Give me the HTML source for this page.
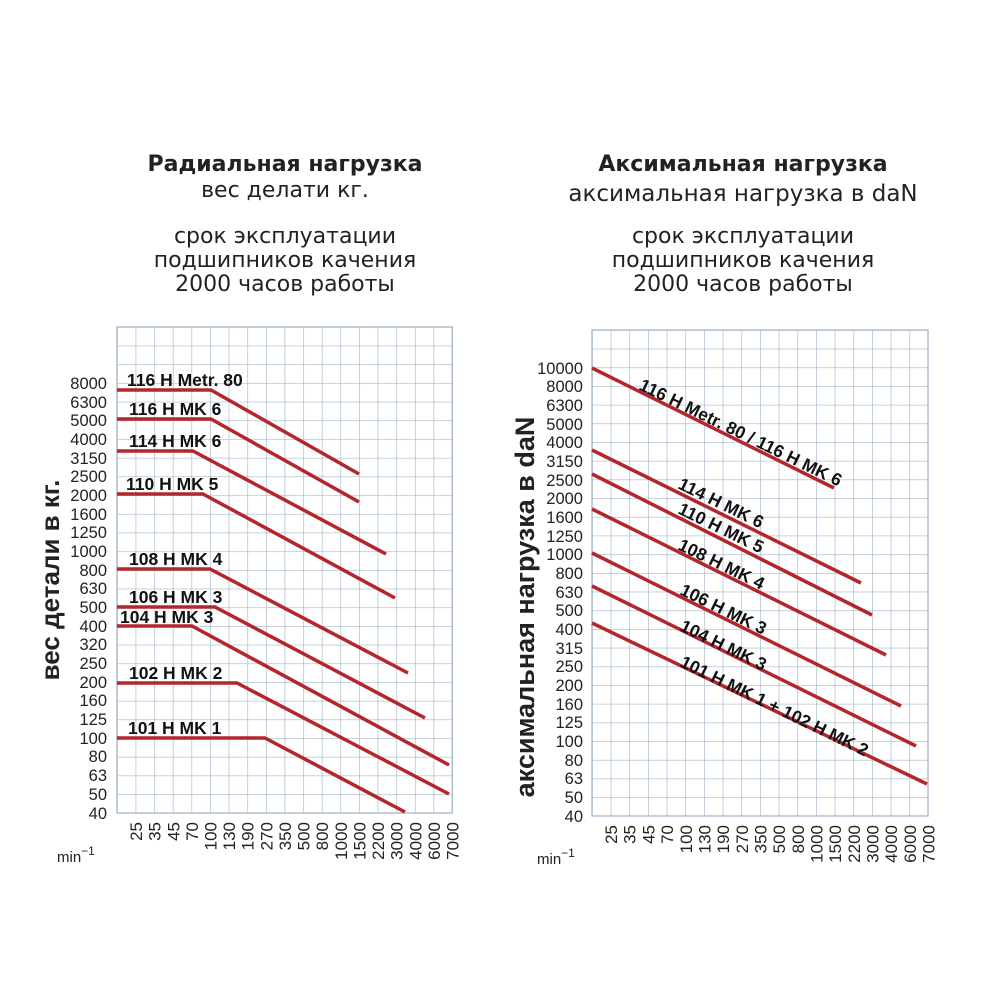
<!DOCTYPE html>
<html><head><meta charset="utf-8"><style>
body{margin:0;background:#fff}
svg{display:block;font-family:"Liberation Sans",sans-serif}
</style></head><body>
<svg width="1000" height="1000" viewBox="0 0 1000 1000" xmlns="http://www.w3.org/2000/svg">
<defs>
<pattern id="gl" x="117" y="327" width="18.62" height="18.69" patternUnits="userSpaceOnUse">
<path d="M0 0H18.62M0 0V18.69" stroke="#a3b6c9" stroke-width="1.3" fill="none"/>
</pattern>
<pattern id="gr" x="592" y="330" width="18.67" height="18.69" patternUnits="userSpaceOnUse">
<path d="M0 0H18.67M0 0V18.69" stroke="#a3b6c9" stroke-width="1.3" fill="none"/>
</pattern>
</defs>
<rect width="1000" height="1000" fill="#fff"/>

<!-- titles -->
<g font-size="22" fill="#222" text-anchor="middle" font-family="DejaVu Sans, sans-serif">
<text x="285" y="171" font-weight="bold">Радиальная нагрузка</text>
<text x="285" y="197">вес делати кг.</text>
<text x="285" y="243">срок эксплуатации</text>
<text x="285" y="267">подшипников качения</text>
<text x="285" y="291">2000 часов работы</text>
<text x="743" y="171" font-weight="bold">Аксимальная нагрузка</text>
<text x="743" y="201" font-size="23">аксимальная нагрузка в daN</text>
<text x="743" y="243">срок эксплуатации</text>
<text x="743" y="267">подшипников качения</text>
<text x="743" y="291">2000 часов работы</text>
</g>

<!-- grids -->
<rect x="117" y="327" width="335.2" height="486" fill="url(#gl)" stroke="#a3b6c9" stroke-width="1.3"/>
<rect x="592" y="330" width="336" height="486" fill="url(#gr)" stroke="#a3b6c9" stroke-width="1.3"/>

<!-- left y labels -->
<g font-size="16.5" fill="#222" text-anchor="end">
<text x="107" y="389">8000</text><text x="107" y="408">6300</text><text x="107" y="426">5000</text><text x="107" y="445">4000</text>
<text x="107" y="464">3150</text><text x="107" y="482">2500</text><text x="107" y="501">2000</text><text x="107" y="520">1600</text>
<text x="107" y="538">1250</text><text x="107" y="557">1000</text><text x="107" y="576">800</text><text x="107" y="594">630</text>
<text x="107" y="613">500</text><text x="107" y="632">400</text><text x="107" y="650">320</text><text x="107" y="669">250</text>
<text x="107" y="688">200</text><text x="107" y="706">160</text><text x="107" y="725">125</text><text x="107" y="744">100</text>
<text x="107" y="762">80</text><text x="107" y="781">63</text><text x="107" y="800">50</text><text x="107" y="819">40</text>
</g>
<!-- right y labels -->
<g font-size="16.5" fill="#222" text-anchor="end">
<text x="583" y="374">10000</text><text x="583" y="392">8000</text><text x="583" y="411">6300</text><text x="583" y="430">5000</text>
<text x="583" y="448">4000</text><text x="583" y="467">3150</text><text x="583" y="486">2500</text><text x="583" y="504">2000</text>
<text x="583" y="523">1600</text><text x="583" y="542">1250</text><text x="583" y="560">1000</text><text x="583" y="579">800</text>
<text x="583" y="598">630</text><text x="583" y="616">500</text><text x="583" y="635">400</text><text x="583" y="654">315</text>
<text x="583" y="672">250</text><text x="583" y="691">200</text><text x="583" y="710">160</text><text x="583" y="728">125</text>
<text x="583" y="747">100</text><text x="583" y="766">80</text><text x="583" y="784">63</text><text x="583" y="803">50</text><text x="583" y="822">40</text>
</g>

<!-- axis titles -->
<text transform="translate(59,580) rotate(-90)" font-size="26" font-weight="bold" fill="#222" text-anchor="middle">вес детали в кг.</text>
<text transform="translate(534,607) rotate(-90)" font-size="27" font-weight="bold" fill="#222" text-anchor="middle">аксимальная нагрузка в daN</text>

<!-- x labels left -->
<g font-size="17" fill="#222" text-anchor="end">
<text transform="translate(142,822) rotate(-90)">25</text>
<text transform="translate(160.6,822) rotate(-90)">35</text>
<text transform="translate(179.3,822) rotate(-90)">45</text>
<text transform="translate(197.9,822) rotate(-90)">70</text>
<text transform="translate(216.5,822) rotate(-90)">100</text>
<text transform="translate(235.1,822) rotate(-90)">130</text>
<text transform="translate(253.7,822) rotate(-90)">190</text>
<text transform="translate(272.4,822) rotate(-90)">270</text>
<text transform="translate(291,822) rotate(-90)">350</text>
<text transform="translate(309.6,822) rotate(-90)">500</text>
<text transform="translate(328.2,822) rotate(-90)">800</text>
<text transform="translate(346.8,822) rotate(-90)">1000</text>
<text transform="translate(365.5,822) rotate(-90)">1500</text>
<text transform="translate(384.1,822) rotate(-90)">2200</text>
<text transform="translate(402.7,822) rotate(-90)">3000</text>
<text transform="translate(421.3,822) rotate(-90)">4000</text>
<text transform="translate(439.9,822) rotate(-90)">6000</text>
<text transform="translate(458.6,822) rotate(-90)">7000</text>
</g>
<!-- x labels right -->
<g font-size="17" fill="#222" text-anchor="end">
<text transform="translate(617.1,825) rotate(-90)">25</text>
<text transform="translate(635.7,825) rotate(-90)">35</text>
<text transform="translate(654.4,825) rotate(-90)">45</text>
<text transform="translate(673.1,825) rotate(-90)">70</text>
<text transform="translate(691.8,825) rotate(-90)">100</text>
<text transform="translate(710.4,825) rotate(-90)">130</text>
<text transform="translate(729.1,825) rotate(-90)">190</text>
<text transform="translate(747.8,825) rotate(-90)">270</text>
<text transform="translate(766.4,825) rotate(-90)">350</text>
<text transform="translate(785.1,825) rotate(-90)">500</text>
<text transform="translate(803.8,825) rotate(-90)">800</text>
<text transform="translate(822.4,825) rotate(-90)">1000</text>
<text transform="translate(841.1,825) rotate(-90)">1500</text>
<text transform="translate(859.8,825) rotate(-90)">2200</text>
<text transform="translate(878.4,825) rotate(-90)">3000</text>
<text transform="translate(897.1,825) rotate(-90)">4000</text>
<text transform="translate(915.8,825) rotate(-90)">6000</text>
<text transform="translate(934.4,825) rotate(-90)">7000</text>
</g>
<text x="57" y="862" font-size="15" fill="#222">min<tspan dy="-7" font-size="12">−1</tspan></text>
<text x="537" y="864" font-size="15" fill="#222">min<tspan dy="-7" font-size="12">−1</tspan></text>

<!-- left lines -->
<g stroke="#b3262b" stroke-width="3.5" fill="none" stroke-linejoin="round">
<polyline points="117,390 211,390 359,474"/>
<polyline points="117,419 211,419 359,502"/>
<polyline points="117,451 193,451 386,554"/>
<polyline points="117,494 203,494 395,598"/>
<polyline points="117,569 210,569 408,673"/>
<polyline points="117,607 215,607 425,718"/>
<polyline points="117,626 192,626 449,765"/>
<polyline points="117,683 237,683 449,794"/>
<polyline points="117,738 265,738 405,812"/>
</g>
<g font-size="17.5" font-weight="bold" fill="#111">
<text x="127" y="386">116 H Metr. 80</text>
<text x="129" y="415">116 H MK 6</text>
<text x="129" y="447">114 H MK 6</text>
<text x="126" y="490">110 H MK 5</text>
<text x="129" y="565">108 H MK 4</text>
<text x="129" y="603">106 H MK 3</text>
<text x="120" y="623">104 H MK 3</text>
<text x="129" y="679">102 H MK 2</text>
<text x="128" y="734">101 H MK 1</text>
</g>

<!-- right lines -->
<g stroke="#b3262b" stroke-width="3.5" fill="none">
<line x1="592" y1="368" x2="834" y2="488"/>
<line x1="592" y1="450" x2="861" y2="583"/>
<line x1="592" y1="474" x2="872" y2="615"/>
<line x1="592" y1="509" x2="886" y2="655"/>
<line x1="592" y1="553" x2="901" y2="706"/>
<line x1="592" y1="586" x2="916" y2="746"/>
<line x1="592" y1="623" x2="927" y2="784"/>
</g>
<g font-size="17.5" font-weight="bold" fill="#111">
<text transform="translate(638,389) rotate(26)">116 H Metr. 80 / 116 H MK 6</text>
<text transform="translate(677,488) rotate(26)">114 H MK 6</text>
<text transform="translate(677,513) rotate(26)">110 H MK 5</text>
<text transform="translate(677,549) rotate(26)">108 H MK 4</text>
<text transform="translate(679,594) rotate(26)">106 H MK 3</text>
<text transform="translate(679,630) rotate(26)">104 H MK 3</text>
<text transform="translate(679,666) rotate(26)">101 H MK 1 + 102 H MK 2</text>
</g>
</svg>
</body></html>
